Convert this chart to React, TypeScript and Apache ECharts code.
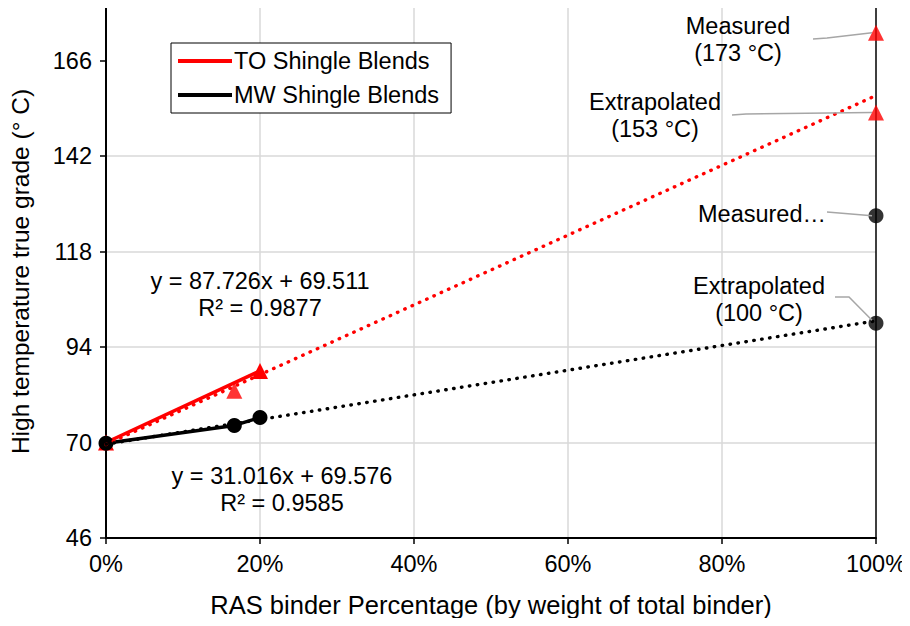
import React, { useEffect, useRef } from "react";
import * as echarts from "echarts";

// RAS binder fraction (0..1) and measured high-temperature true grade (°C)
const toX = [0, 0.2];
const toY = [70, 88];
const toMidX = [1 / 6];
const toMidY = [83];
const mwX = [0, 1 / 6, 0.2];
const mwY = [69.8, 74.3, 76.3];

// Values at 100 % RAS binder
const toMeasured = 173;
const toExtrapolated = 153;
const mwMeasured = 127;
const mwExtrapolated = 100;

// Linear trendlines (slope, intercept)
const toFit = [87.726, 69.511];
const mwFit = [31.016, 69.576];
const toFitLabel = ["y = 87.726x + 69.511", "R² = 0.9877"];
const mwFitLabel = ["y = 31.016x + 69.576", "R² = 0.9585"];

const yTicks = [46, 70, 94, 118, 142, 166];
const xTicks = [0, 0.2, 0.4, 0.6, 0.8, 1];

const FONT = "Liberation Sans, Arial, sans-serif";
const FS = 23.5;
const RED = "#ff0000";
const BLACK = "#000000";
const GREY = "#a6a6a6";

const pairs = (xs: number[], ys: number[]) => xs.map((x, i) => [x, ys[i]]);
const fitLine = (f: number[]) => [
  [0, f[1]],
  [1, f[0] + f[1]],
];

export default function App() {
  const ref = useRef<HTMLDivElement>(null);

  useEffect(() => {
    if (!ref.current) return;
    const chart = echarts.init(ref.current, null, { renderer: "svg" });

    const dotted = { type: [0.5, 7.5] as number[], cap: "round" as const, width: 3.4 };

    chart.setOption({
      animation: false,
      backgroundColor: "#ffffff",
      textStyle: { fontFamily: FONT },
      grid: {
        left: 105,
        right: 34,
        top: 5,
        bottom: 88,
        show: true,
        borderColor: BLACK,
        borderWidth: 1.5,
        z: 1,
      },
      legend: {
        left: 171,
        top: 43,
        orient: "vertical",
        backgroundColor: "#ffffff",
        borderColor: BLACK,
        borderWidth: 1,
        padding: [6, 12, 6, 7],
        itemGap: 10,
        itemWidth: 54,
        itemHeight: 4,
        icon: "rect",
        textStyle: { fontSize: FS, color: BLACK, fontFamily: FONT, padding: [0, 0, 0, -3] },
        data: ["TO Shingle Blends", "MW Shingle Blends"],
      },
      xAxis: {
        type: "value",
        min: 0,
        max: 1,
        interval: 0.2,
        name: "RAS binder Percentage (by weight of total binder)",
        nameLocation: "middle",
        nameGap: 54,
        nameTextStyle: { fontSize: 25.5, color: BLACK, fontFamily: FONT },
        axisLine: { show: true, lineStyle: { color: BLACK, width: 2 } },
        axisTick: { show: true, length: 6, lineStyle: { color: BLACK, width: 1.5 } },
        axisLabel: {
          fontSize: FS,
          color: BLACK,
          margin: 14,
          customValues: xTicks,
          formatter: (v: number) => `${Math.round(v * 100)}%`,
        },
        splitLine: {
          show: true,
          showMinLine: false,
          showMaxLine: false,
          lineStyle: { color: "#d9d9d9", width: 1.5 },
        },
      },
      yAxis: {
        type: "value",
        min: 46,
        max: 180,
        interval: 24,
        name: "High temperature true grade (° C)",
        nameLocation: "middle",
        nameRotate: 90,
        nameGap: 73,
        nameTextStyle: { fontSize: 24.5, color: BLACK, fontFamily: FONT, padding: [0, 0, 0, 0] },
        axisLine: { show: true, lineStyle: { color: BLACK, width: 2 } },
        axisTick: { show: true, length: 6, customValues: yTicks, lineStyle: { color: BLACK, width: 1.5 } },
        axisLabel: { fontSize: FS, color: BLACK, margin: 14, customValues: yTicks },
        splitLine: {
          show: true,
          showMinLine: false,
          showMaxLine: false,
          lineStyle: { color: "#d9d9d9", width: 1.5 },
        },
      },
      series: [
        {
          name: "TO Shingle Blends",
          type: "line",
          data: pairs(toX, toY),
          color: RED,
          lineStyle: { color: RED, width: 3.5 },
          symbol: "triangle",
          symbolSize: 16,
          itemStyle: { color: RED },
          z: 3,
        },
        {
          name: "TO 1/6",
          type: "scatter",
          data: pairs(toMidX, toMidY),
          symbol: "triangle",
          symbolSize: 16,
          itemStyle: { color: RED },
          z: 3,
        },
        {
          name: "MW Shingle Blends",
          type: "line",
          data: pairs(mwX, mwY),
          color: BLACK,
          lineStyle: { color: BLACK, width: 3.5 },
          symbol: "circle",
          symbolSize: 15,
          itemStyle: { color: BLACK },
          z: 3,
        },
        {
          name: "TO trend",
          type: "line",
          data: fitLine(toFit),
          showSymbol: false,
          symbol: "none",
          lineStyle: { ...dotted, color: RED },
          z: 4,
        },
        {
          name: "MW trend",
          type: "line",
          data: fitLine(mwFit),
          showSymbol: false,
          symbol: "none",
          lineStyle: { ...dotted, color: BLACK },
          z: 4,
        },
        {
          name: "TO at 100%",
          type: "scatter",
          data: [
            [1, toMeasured],
            [1, toExtrapolated],
          ],
          symbol: "triangle",
          symbolSize: 16,
          itemStyle: { color: RED },
          z: 5,
        },
        {
          name: "MW at 100%",
          type: "scatter",
          data: [
            [1, mwMeasured],
            [1, mwExtrapolated],
          ],
          symbol: "circle",
          symbolSize: 15,
          itemStyle: { color: BLACK },
          z: 5,
        },
      ],
    });

    // Callout texts with leader lines to the 100 % points
    const px = (x: number, y: number) => chart.convertToPixel({ gridIndex: 0 }, [x, y]) as number[];
    const pToM = px(1, toMeasured);
    const pToE = px(1, toExtrapolated);
    const pMwM = px(1, mwMeasured);
    const pMwE = px(1, mwExtrapolated);

    const txt = (x: number, y: number, text: string, align = "center") => ({
      type: "text",
      x,
      y,
      z: 20,
      style: {
        text,
        fontSize: FS,
        fontFamily: FONT,
        fill: BLACK,
        align,
        verticalAlign: "middle",
        lineHeight: 27,
      },
    });
    const leader = (pts: number[][]) => ({
      type: "polyline",
      z: 19,
      shape: { points: pts },
      style: { stroke: GREY, lineWidth: 1.5, fill: null },
    });

    chart.setOption({
      graphic: [
        txt(738, 39, "Measured\n(173 °C)"),
        leader([
          [813, 39],
          [827, 38],
          [pToM[0] - 4, pToM[1]],
        ]),
        txt(655, 115, "Extrapolated\n(153 °C)"),
        leader([
          [732, 115],
          [746, 114],
          [pToE[0] - 4, pToE[1]],
        ]),
        txt(826, 214, "Measured…", "right"),
        leader([
          [827, 212],
          [pMwM[0] - 4, pMwM[1]],
        ]),
        txt(759, 299, "Extrapolated\n(100 °C)"),
        leader([
          [835, 297],
          [849, 297],
          [pMwE[0] - 4, pMwE[1] - 3],
        ]),
        txt(260, 294, toFitLabel.join("\n")),
        txt(282, 489, mwFitLabel.join("\n")),
      ],
    });

    return () => chart.dispose();
  }, []);

  return <div ref={ref} style={{ width: 910, height: 626, margin: -8 }} />;
}
